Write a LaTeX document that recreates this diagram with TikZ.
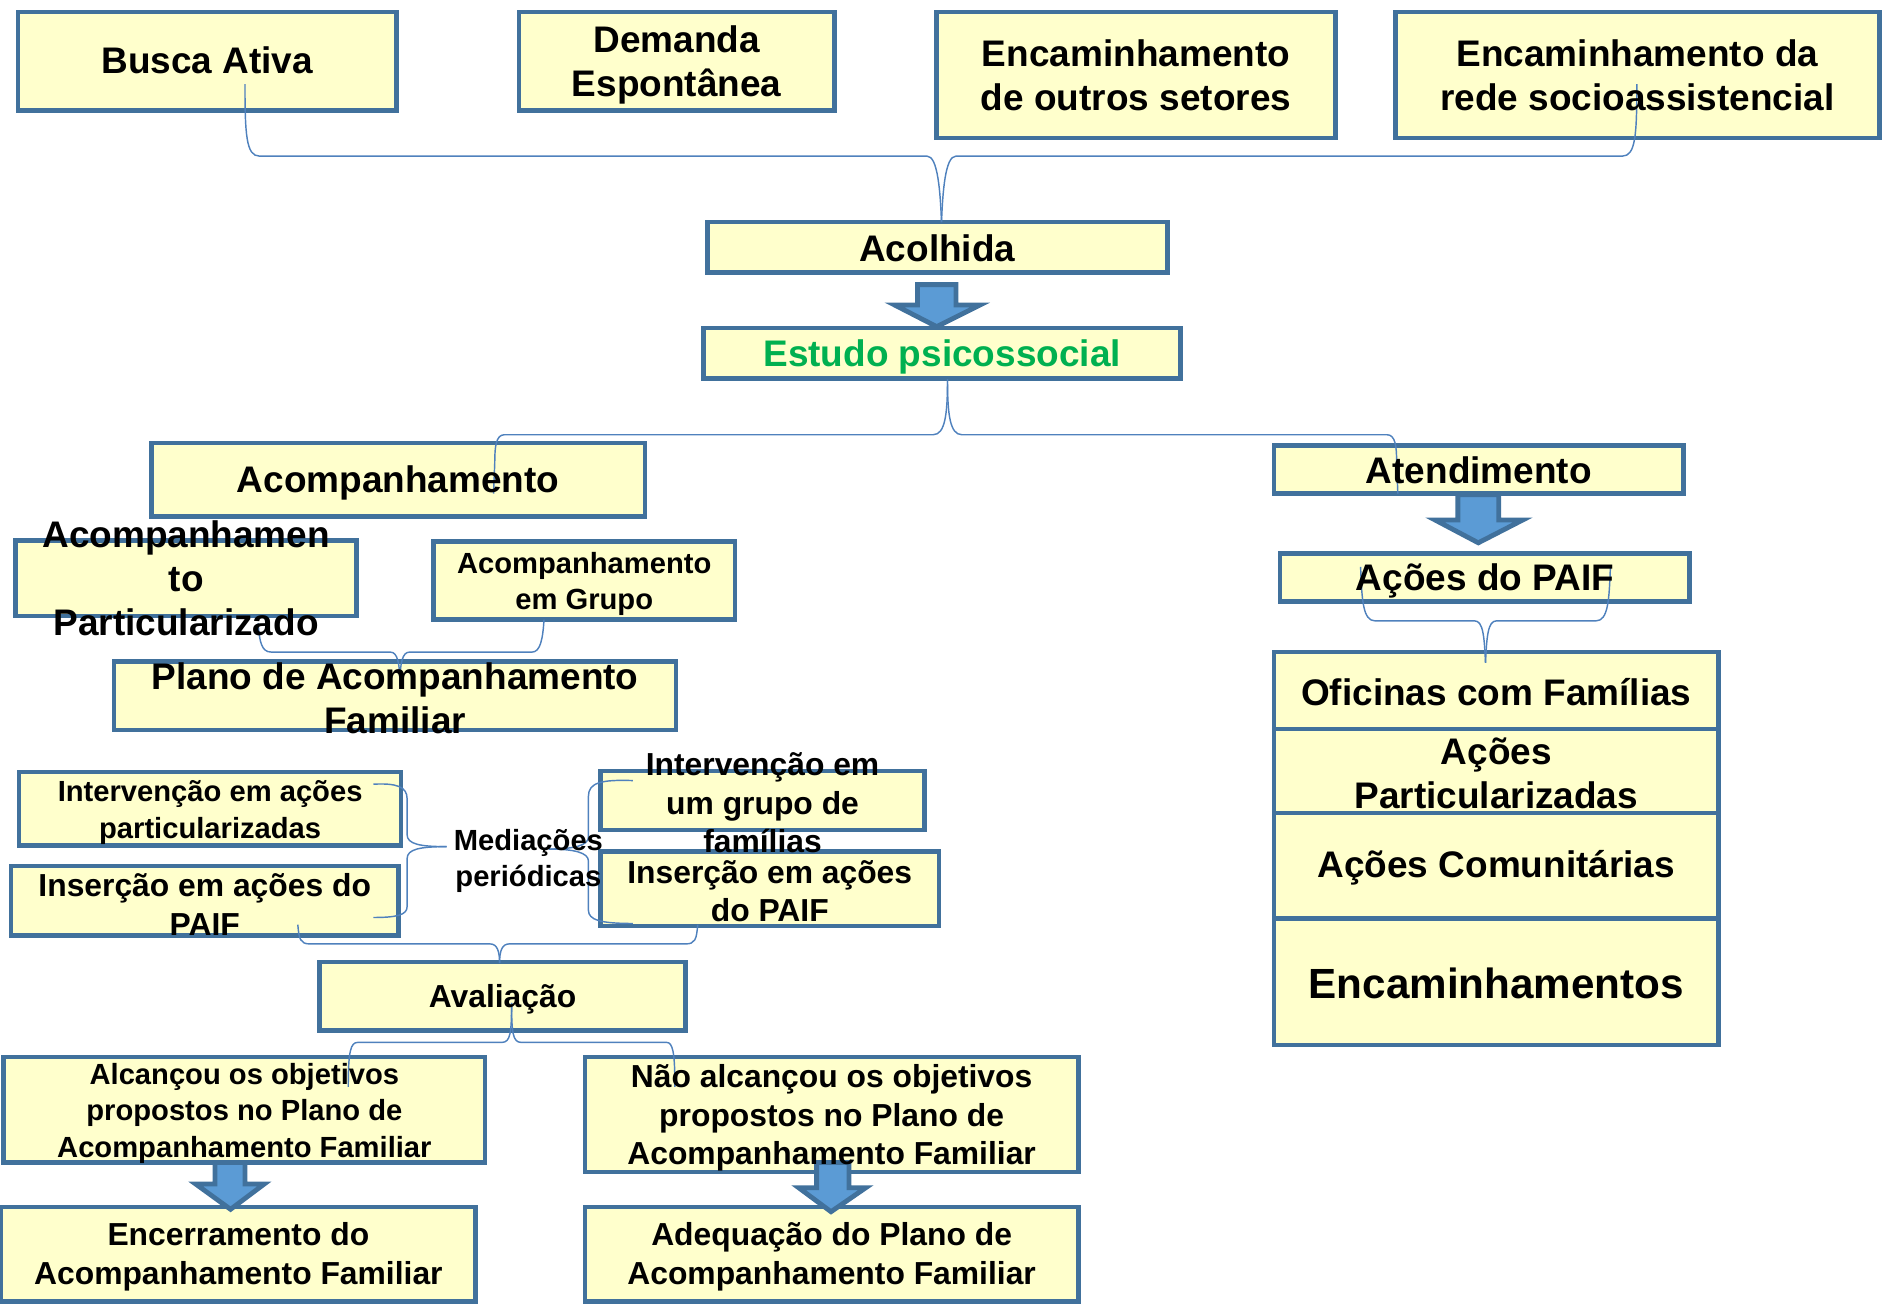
\documentclass[tikz,border=0pt]{standalone}
\usepackage{fontspec}
\setmainfont{Liberation Sans}
\usetikzlibrary{calc}
\definecolor{boxfill}{RGB}{255,255,204}
\definecolor{boxline}{RGB}{65,113,156}
\definecolor{connc}{RGB}{79,129,189}
\definecolor{arrfill}{RGB}{91,155,213}
\definecolor{estgreen}{RGB}{0,176,80}
\newcommand\bx[5]{\node[box, minimum width={(#4-#2)*0.1mm}, minimum height={(#5-#3)*0.1mm}] (#1) at ({(#2+#4)/2},{(#3+#5)/2}) {};}
\begin{document}
\begin{tikzpicture}[x=0.1mm,y=-0.1mm,
  box/.style={draw=boxline, fill=boxfill, line width=0.38mm, inner sep=0pt, outer sep=0pt},
  fa/.style={align=center, inner sep=0pt, yshift=-0.2mm, font=\bfseries\fontsize{8.76}{10.5}\selectfont},
  fb/.style={align=center, inner sep=0pt, yshift=-0.3mm, font=\bfseries\fontsize{6.91}{8.6}\selectfont},
  fc/.style={align=center, inner sep=0pt, yshift=-0.3mm, font=\bfseries\fontsize{7.54}{9.1}\selectfont},
  fd/.style={align=center, inner sep=0pt, font=\bfseries\fontsize{10}{12}\selectfont},
  conn/.style={draw=connc, line width=0.12mm},
  barrow/.style={fill=arrfill, draw=boxline, line width=0.4mm, line join=miter}
]
\useasboundingbox (0,0) rectangle (1568,1087);
% boxes
\bx{busca}{15}{10}{330}{92}
\bx{demanda}{432}{10}{695}{92}
\bx{outros}{780}{10}{1112}{115}
\bx{rede}{1162}{10}{1565}{115}
\bx{acol}{589}{185}{972}{227}
\bx{estudo}{586}{273}{983}{315}
\bx{acomp}{126}{369}{537}{430}
\bx{atend}{1061}{371}{1402}{411}
\bx{paif}{1066}{461}{1407}{501}
\bx{ofic}{1061}{543}{1431}{607}
\bx{apart}{1061}{607}{1431}{677}
\bx{acom}{1061}{677}{1431}{765}
\bx{encs}{1061}{765}{1431}{870}
\bx{apartic}{13}{450}{297}{513}
\bx{agrupo}{361}{451}{612}{516}
\bx{plano}{95}{551}{563}{608}
\bx{intpart}{16}{643}{334}{704}
\bx{insleft}{9}{721}{332}{779}
\bx{intgrupo}{500}{642}{770}{691}
\bx{insright}{500}{709}{782}{771}
\bx{aval}{266}{801}{571}{858}
\bx{alc}{3}{880}{404}{968}
\bx{nalc}{487}{880}{898}{976}
\bx{encer}{1}{1005}{396}{1084}
\bx{adeq}{487}{1005}{898}{1084}
% block arrows
\draw[barrow] (764,237) -- (796,237) -- (796,254) -- (816,254) -- (780,272) -- (745,254) -- (764,254) -- cycle;
\draw[barrow] (1214,412) -- (1248,412) -- (1248,433) -- (1268,433) -- (1231,452) -- (1195,433) -- (1214,433) -- cycle;
\draw[barrow] (179,968) -- (204,968) -- (204,986) -- (220,986) -- (192,1007) -- (163,986) -- (179,986) -- cycle;
\draw[barrow] (680,968) -- (707,968) -- (707,989) -- (721,989) -- (692,1009) -- (665,989) -- (680,989) -- cycle;
% connector end points
\coordinate (pBusca) at (204,70);
\coordinate (pRede) at (1363,70);
\coordinate (pAcol) at (784,185);
\coordinate (pEst) at (789,316);
\coordinate (pAcomp) at (411,411);
\coordinate (pAtend) at (1164,411);
\coordinate (pPaifL) at (1133,472);
\coordinate (pPaifR) at (1341,472);
\coordinate (pOfic) at (1237,552);
\coordinate (pPart) at (215,519);
\coordinate (pGrupo) at (453,516);
\coordinate (pPlano) at (333,571);
\coordinate (pIntL) at (311,653);
\coordinate (pInsL) at (311,764);
\coordinate (pMedR) at (372,705);
\coordinate (pIntR) at (527,650);
\coordinate (pInsR) at (527,769);
\coordinate (pMedL) at (457,707);
\coordinate (pInsLb) at (248,770);
\coordinate (pInsRb) at (581,770);
\coordinate (pAvalT) at (416,802);
\coordinate (pAvalB) at (426,835);
\coordinate (pAlc) at (290,905);
\coordinate (pNalc) at (562,905);
% connectors
\draw[conn] (pBusca) .. controls (204,112) and (205,130) .. (216,130) -- (772,130) .. controls (781,130) and (783,160) .. (pAcol);
\draw[conn] (pRede) .. controls (1363,112) and (1362,130) .. (1351,130) -- (796,130) .. controls (787,130) and (785,160) .. (pAcol);
\draw[conn] (pEst) .. controls (789,345) and (787,362) .. (777,362) -- (420,362) .. controls (413,362) and (412,372) .. (412,385) -- (pAcomp);
\draw[conn] (pEst) .. controls (789,345) and (791,362) .. (801,362) -- (1155,362) .. controls (1162,362) and (1163,372) .. (1163,385) -- (pAtend);
\draw[conn] (pPaifL) .. controls (1134,500) and (1135,517) .. (1145,517) -- (1228,517) .. controls (1235,517) and (1236,530) .. (pOfic);
\draw[conn] (pPaifR) .. controls (1340,500) and (1339,517) .. (1329,517) -- (1246,517) .. controls (1239,517) and (1238,530) .. (pOfic);
\draw[conn] (pPart) .. controls (216,535) and (218,543) .. (226,543) -- (325,543) .. controls (331,543) and (333,552) .. (pPlano);
\draw[conn] (pGrupo) .. controls (452,532) and (450,543) .. (443,543) -- (341,543) .. controls (335,543) and (333,552) .. (pPlano);
\draw[conn] (pIntL) .. controls (330,652) and (339,655) .. (339,665) -- (339,695) .. controls (339,703) and (350,705) .. (pMedR);
\draw[conn] (pInsL) .. controls (330,764) and (339,762) .. (339,755) -- (339,715) .. controls (339,707) and (350,705) .. (pMedR);
\draw[conn] (pIntR) .. controls (500,649) and (490,652) .. (490,663) -- (490,697) .. controls (490,704) and (478,707) .. (pMedL);
\draw[conn] (pInsR) .. controls (500,769) and (490,766) .. (490,758) -- (490,717) .. controls (490,710) and (478,707) .. (pMedL);
\draw[conn] (pInsLb) .. controls (249,782) and (250,786) .. (258,786) -- (408,786) .. controls (414,786) and (416,792) .. (pAvalT);
\draw[conn] (pInsRb) .. controls (580,782) and (579,786) .. (571,786) -- (424,786) .. controls (418,786) and (416,792) .. (pAvalT);
\draw[conn] (pAvalB) .. controls (426,860) and (425,868) .. (418,868) -- (298,868) .. controls (292,868) and (290,875) .. (pAlc);
\draw[conn] (pAvalB) .. controls (426,860) and (427,868) .. (434,868) -- (555,868) .. controls (560,868) and (562,875) .. (pNalc);
% texts
\node[fa] (tbusca) at ($(busca)+(0,-3)$) {Busca Ativa};
\node[fa] (tdemanda) at ($(demanda)+(0,1)$) {Demanda\\Espontânea};
\node[fa] (toutros) at ($(outros)+(0,-2)$) {Encaminhamento\\de outros setores};
\node[fa] (trede) at ($(rede)+(0,-2)$) {Encaminhamento da\\rede socioassistencial};
\node[fa] (tacol) at ($(acol)+(0,-1)$) {Acolhida};
\node[fa, text=estgreen] (testudo) at ($(estudo)+(0,1)$) {Estudo psicossocial};
\node[fa] (tacomp) at ($(acomp)+(0,1)$) {Acompanhamento};
\node[fa] (tatend) at ($(atend)+(0,-1)$) {Atendimento};
\node[fa] (tpaif) at ($(paif)+(0,1)$) {Ações do PAIF};
\node[fa] (tofic) at ($(ofic)+(0,-1)$) {Oficinas com Famílias};
\node[fa] (tapart) at (apart) {Ações\\Particularizadas};
\node[fa] (tacom) at (acom) {Ações Comunitárias};
\node[fd] (tencs) at ($(encs)+(0,1)$) {Encaminhamentos};
\node[fa] (tapartic) at ($(apartic)+(0,-2)$) {Acompanhamen\\to\\Particularizado};
\node[fb] (tagrupo) at (agrupo) {Acompanhamento\\em Grupo};
\node[fa] (tplano) at ($(plano)+(0,0)$) {Plano de Acompanhamento\\Familiar};
\node[fb] (tintpart) at (intpart) {Intervenção em ações\\particularizadas};
\node[fc] (tinsleft) at ($(insleft)+(0,0)$) {Inserção em ações do\\PAIF};
\node[fb] (tmed) at (440,714) {Mediações\\periódicas};
\node[fc] (tintgrupo) at ($(intgrupo)+(0,-1)$) {Intervenção em\\um grupo de\\famílias};
\node[fc] (tinsright) at ($(insright)+(0,-1)$) {Inserção em ações\\do PAIF};
\node[fc] (taval) at ($(aval)+(0,0)$) {Avaliação};
\node[fb] (talc) at (alc) {Alcançou os objetivos\\propostos no Plano de\\Acompanhamento Familiar};
\node[fc] (tnalc) at (nalc) {Não alcançou os objetivos\\propostos no Plano de\\Acompanhamento Familiar};
\node[fc] (tencer) at ($(encer)+(0,-1)$) {Encerramento do\\Acompanhamento Familiar};
\node[fc] (tadeq) at ($(adeq)+(0,-1)$) {Adequação do Plano de\\Acompanhamento Familiar};
\end{tikzpicture}
\end{document}
